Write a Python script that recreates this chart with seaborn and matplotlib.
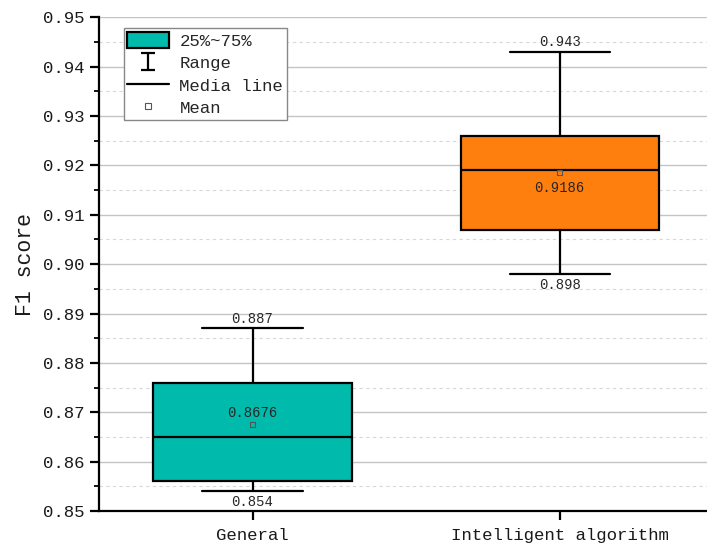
import matplotlib.pyplot as plt
import seaborn as sns
from matplotlib.patches import Patch
from matplotlib.lines import Line2D
from matplotlib.ticker import MultipleLocator

# values
groups = ['General', 'Intelligent algorithm']
whis_low = [0.854, 0.898]
q1 = [0.856, 0.907]
medians = [0.865, 0.919]
q3 = [0.876, 0.926]
whis_high = [0.887, 0.943]
means = [0.8676, 0.9186]
box_colors = ['#00BBAC', '#FF7F0E']

sns.set_theme(style='ticks')
plt.rcParams['font.family'] = ['Liberation Mono', 'DejaVu Sans']

fig = plt.figure(figsize=(7.07, 5.51), dpi=100)
ax = fig.add_axes([0.14, 0.0726, 0.86, 0.896])

pos = list(range(len(groups)))
stats = [dict(label=g, whislo=lo, q1=a, med=m, q3=b, whishi=hi, fliers=[])
         for g, lo, a, m, b, hi in zip(groups, whis_low, q1, medians, q3, whis_high)]

lw = 1.6
bp = ax.bxp(stats, positions=pos, widths=0.645, capwidths=0.326,
            patch_artist=True, showfliers=False,
            boxprops=dict(linewidth=lw, edgecolor='black'),
            whiskerprops=dict(linewidth=lw, color='black'),
            capprops=dict(linewidth=lw, color='black'),
            medianprops=dict(linewidth=lw, color='black'))
for patch, c in zip(bp['boxes'], box_colors):
    patch.set_facecolor(c)

# mean markers
sns.scatterplot(x=pos, y=means, marker='s', s=14, ax=ax, zorder=5, legend=False,
                facecolor='none', edgecolor='#555555', linewidth=0.8)

# value labels
mean_offsets = [8, -11]
for i in pos:
    ax.annotate(f'{whis_high[i]:.3f}', (i, whis_high[i]), xytext=(0, 7),
                textcoords='offset points', ha='center', va='center', fontsize=10)
    ax.annotate(f'{whis_low[i]:.3f}', (i, whis_low[i]), xytext=(0, -8),
                textcoords='offset points', ha='center', va='center', fontsize=10)
    ax.annotate(f'{means[i]:.4f}', (i, means[i]), xytext=(0, mean_offsets[i]),
                textcoords='offset points', ha='center', va='center', fontsize=10)

ax.set_xlim(-0.5, 1.48)
ax.set_ylim(0.85, 0.95)
ax.set_xticks(pos, groups)
ax.yaxis.set_major_locator(MultipleLocator(0.01))
ax.yaxis.set_minor_locator(MultipleLocator(0.005))
ax.yaxis.set_major_formatter(plt.FormatStrFormatter('%.2f'))

ax.set_axisbelow(True)
ax.grid(axis='y', which='major', color='#c4c4c4', linewidth=1.0)
ax.grid(axis='y', which='minor', color='#d8d8d8', linewidth=0.8, linestyle=(0, (3, 3)))
ax.grid(axis='x', visible=False)
for t in ax.yaxis.get_major_ticks():
    if abs(t.get_loc() - 0.95) < 1e-9:
        t.gridline.set_visible(False)

sns.despine(ax=ax)
for side in ['left', 'bottom']:
    ax.spines[side].set_linewidth(lw)
    ax.spines[side].set_color('black')

ax.tick_params(axis='both', which='major', direction='out', length=6.5, width=lw,
               labelsize=12.5, color='black', labelcolor='#1a1a1a')
ax.tick_params(axis='y', which='minor', direction='out', length=3.5, width=1.3, color='black')
ax.tick_params(axis='y', which='major', pad=4)
ax.tick_params(axis='x', which='major', pad=6)
ax.set_ylabel('F1 score', fontsize=15.5, labelpad=5, color='#1a1a1a')
ax.set_xlabel('')

# legend (proxy errorbar so the "Range" entry gets its caps)
eb = ax.errorbar([float('nan')], [float('nan')], yerr=[float('nan')], fmt='none',
                 ecolor='black', elinewidth=lw, capsize=5, capthick=lw)
handles = [
    Patch(facecolor=box_colors[0], edgecolor='black', linewidth=lw),
    eb,
    Line2D([], [], color='black', linewidth=lw),
    Line2D([], [], linestyle='none', marker='s', markersize=4, markerfacecolor='none',
           markeredgecolor='#555555', markeredgewidth=0.8),
]
labels = ['25%~75%', 'Range', 'Media line', 'Mean']
leg = ax.legend(handles, labels, loc='upper left', bbox_to_anchor=(0.041, 0.978),
                borderaxespad=0, fontsize=12.5, frameon=True, fancybox=False,
                edgecolor='#888888', framealpha=1, handlelength=2.4, handleheight=1.1,
                labelspacing=0.3, handletextpad=0.6, borderpad=0.2)
leg.get_frame().set_linewidth(1.0)

plt.savefig('out.png', dpi=100)
